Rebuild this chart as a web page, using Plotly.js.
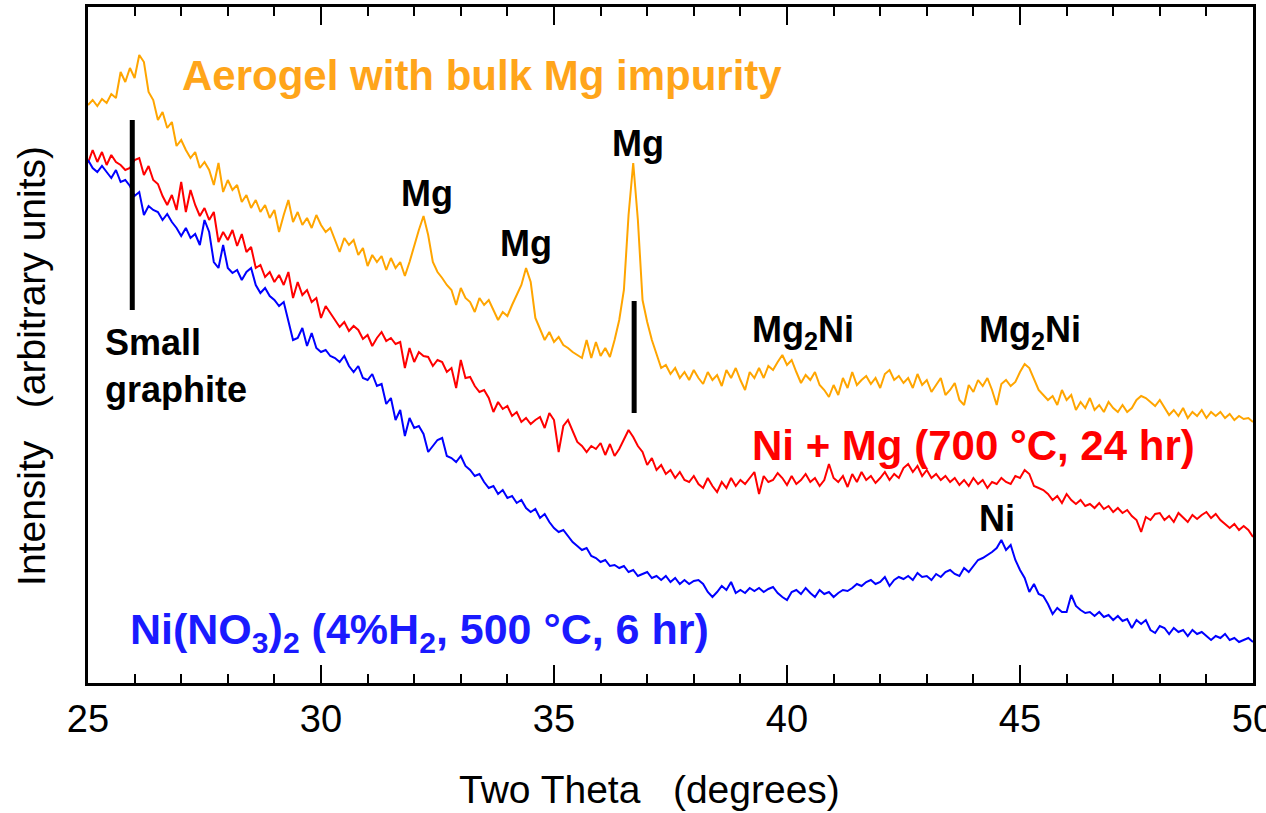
<!DOCTYPE html>
<html>
<head>
<meta charset="utf-8">
<script src="https://cdn.plot.ly/plotly-3.0.1.min.js"></script>
<style>html,body{margin:0;padding:0;background:#fff;}#chart{width:1266px;height:813px;}</style>
</head>
<body>
<div id="chart"></div>
<script>
// Two-theta scan grid (degrees)
const twoTheta = [
25.0,25.1,25.2,25.3,25.4,25.5,25.6,25.7,25.8,25.9,
26.0,26.1,26.2,26.3,26.4,26.5,26.6,26.7,26.8,26.9,
27.0,27.1,27.2,27.3,27.4,27.5,27.6,27.7,27.8,27.9,
28.0,28.1,28.2,28.3,28.4,28.5,28.6,28.7,28.8,28.9,
29.0,29.1,29.2,29.3,29.4,29.5,29.6,29.7,29.8,29.9,
30.0,30.1,30.2,30.3,30.4,30.5,30.6,30.7,30.8,30.9,
31.0,31.1,31.2,31.3,31.4,31.5,31.6,31.7,31.8,31.9,
32.0,32.1,32.2,32.3,32.4,32.5,32.6,32.7,32.8,32.9,
33.0,33.1,33.2,33.3,33.4,33.5,33.6,33.7,33.8,33.9,
34.0,34.1,34.2,34.3,34.4,34.5,34.6,34.7,34.8,34.9,
35.0,35.1,35.2,35.3,35.4,35.5,35.6,35.7,35.8,35.9,
36.0,36.1,36.2,36.3,36.4,36.5,36.6,36.7,36.8,36.9,
37.0,37.1,37.2,37.3,37.4,37.5,37.6,37.7,37.8,37.9,
38.0,38.1,38.2,38.3,38.4,38.5,38.6,38.7,38.8,38.9,
39.0,39.1,39.2,39.3,39.4,39.5,39.6,39.7,39.8,39.9,
40.0,40.1,40.2,40.3,40.4,40.5,40.6,40.7,40.8,40.9,
41.0,41.1,41.2,41.3,41.4,41.5,41.6,41.7,41.8,41.9,
42.0,42.1,42.2,42.3,42.4,42.5,42.6,42.7,42.8,42.9,
43.0,43.1,43.2,43.3,43.4,43.5,43.6,43.7,43.8,43.9,
44.0,44.1,44.2,44.3,44.4,44.5,44.6,44.7,44.8,44.9,
45.0,45.1,45.2,45.3,45.4,45.5,45.6,45.7,45.8,45.9,
46.0,46.1,46.2,46.3,46.4,46.5,46.6,46.7,46.8,46.9,
47.0,47.1,47.2,47.3,47.4,47.5,47.6,47.7,47.8,47.9,
48.0,48.1,48.2,48.3,48.4,48.5,48.6,48.7,48.8,48.9,
49.0,49.1,49.2,49.3,49.4,49.5,49.6,49.7,49.8,49.9,
50.0];

// Intensity (arbitrary units, offset for display)
const aerogelMg = [
578,583,577,584,580,589,585,611,601,615,
605,628,621,591,583,563,571,555,561,537,
543,533,525,531,515,521,513,498,520,491,
503,493,498,481,488,475,483,471,478,465,
473,451,468,483,461,471,458,465,455,468,
458,451,455,443,431,445,438,443,428,435,
417,428,421,427,413,425,415,421,407,421,
438,453,467,448,421,411,405,398,393,378,
395,385,381,371,385,378,383,373,363,371,
367,378,388,398,415,401,365,353,343,351,
341,346,338,335,331,328,325,343,325,341,
327,335,326,343,363,393,468,520,463,383,
361,343,328,315,318,309,315,305,311,303,
313,305,299,311,303,308,297,313,305,315,
303,293,311,305,315,305,317,313,321,328,
318,323,311,300,308,303,311,298,293,286,
298,288,305,295,311,298,303,307,299,305,
295,309,313,303,307,300,305,295,309,298,
303,291,298,305,288,293,300,283,278,298,
291,303,297,305,293,278,299,303,297,301,
311,319,315,303,293,288,283,287,278,293,
283,288,273,281,275,285,273,278,271,281,
275,271,278,271,275,283,287,285,281,277,
283,275,268,273,267,275,265,271,267,273,
265,271,267,271,265,269,263,267,264,265,
261];

const niMg = [
520,533,521,531,518,528,521,518,513,515,
523,525,508,517,503,499,487,478,488,473,
501,471,493,478,467,475,463,471,441,451,
443,453,437,449,431,436,415,418,406,411,
401,408,398,411,385,401,388,393,381,385,
365,377,370,363,356,361,352,357,353,344,
348,337,345,351,342,345,339,341,315,335,
321,331,327,326,317,323,321,311,315,295,
323,305,306,297,291,293,285,271,281,274,
277,267,271,261,265,259,263,266,255,270,
263,231,257,263,251,241,237,231,237,234,
240,228,239,227,234,243,253,246,237,231,
218,225,213,218,209,213,205,211,203,201,
207,199,195,205,197,191,201,195,205,197,
203,199,205,211,189,207,201,203,210,205,
198,207,199,203,209,201,205,197,203,219,
205,201,207,196,209,201,211,203,207,200,
205,211,203,209,205,215,219,211,217,207,
213,205,209,203,207,201,205,198,203,197,
205,199,203,195,201,199,205,201,199,207,
205,213,209,197,195,193,189,183,187,180,
189,183,179,183,177,179,175,180,174,177,
171,175,170,173,167,163,151,166,163,169,
170,163,167,161,170,165,161,168,164,168,
171,165,169,163,159,155,159,153,157,153,
146];

const niNitrate = [
523,515,511,517,511,505,513,501,503,497,
487,491,468,477,473,471,463,469,461,455,
447,455,445,449,438,463,451,421,415,438,
415,410,413,403,411,415,398,390,395,387,
383,377,381,363,343,345,355,337,350,335,
331,333,327,325,321,327,317,311,317,305,
303,309,297,299,279,285,263,273,247,265,
255,257,249,231,237,243,245,227,225,221,
227,217,213,207,209,201,195,197,189,193,
185,187,180,183,175,171,174,165,169,161,
155,151,153,147,141,137,133,135,127,125,
121,123,117,118,115,117,111,113,107,109,
111,105,107,103,107,101,105,99,103,99,
102,103,99,91,86,91,97,93,101,90,
93,90,95,92,95,91,94,96,90,86,
83,91,93,89,95,90,86,93,89,91,
86,90,93,92,95,99,97,101,103,99,
101,106,97,103,106,104,107,103,110,106,
107,103,109,106,111,113,109,107,115,111,
117,123,125,128,131,135,143,133,138,123,
113,105,91,99,89,87,79,69,75,71,
71,88,77,73,70,71,67,71,66,68,
63,67,62,64,55,63,59,63,53,50,
57,55,49,55,51,53,47,53,49,51,
47,43,47,45,49,43,45,41,43,45,
41];

// Reference marker lines (two-theta, intensity span)
const graphiteMarkX = [25.95, 25.95];
const graphiteMarkY = [563, 373];
const mgMarkX = [36.72, 36.72];
const mgMarkY = [382, 270];

const xTickVals = [25, 30, 35, 40, 45, 50];
const seriesNames = ["Aerogel with bulk Mg impurity", "Ni + Mg (700 °C, 24 hr)", "Ni(NO3)2 (4%H2, 500 °C, 6 hr)"];
const seriesColors = ["#FFA500", "#FF0000", "#0000FF"];

const FONT = "Liberation Sans, Arial, sans-serif";

const traces = [
  {x: twoTheta, y: aerogelMg, mode: "lines", name: seriesNames[0], line: {color: seriesColors[0], width: 2}},
  {x: twoTheta, y: niMg, mode: "lines", name: seriesNames[1], line: {color: seriesColors[1], width: 2}},
  {x: twoTheta, y: niNitrate, mode: "lines", name: seriesNames[2], line: {color: seriesColors[2], width: 2}},
  {x: graphiteMarkX, y: graphiteMarkY, mode: "lines", name: "graphite marker", line: {color: "#000", width: 5}, hoverinfo: "skip"},
  {x: mgMarkX, y: mgMarkY, mode: "lines", name: "Mg marker", line: {color: "#000", width: 5}, hoverinfo: "skip"}
];

const bold = (size, color) => ({family: FONT, size: size, color: color, weight: "bold"});

const annotations = [
  {x: 26.97, y: 608, xanchor: "left", yanchor: "middle", text: "<b>Aerogel with bulk Mg impurity</b>", font: bold(42, "#FFA51A")},
  {x: 32.27, y: 490, xanchor: "center", yanchor: "middle", text: "<b>Mg</b>", font: bold(36, "#000")},
  {x: 34.4, y: 440, xanchor: "center", yanchor: "middle", text: "<b>Mg</b>", font: bold(36, "#000")},
  {x: 36.8, y: 540, xanchor: "center", yanchor: "middle", text: "<b>Mg</b>", font: bold(36, "#000")},
  {x: 40.34, y: 351, xanchor: "center", yanchor: "middle", text: "<b>Mg<sub>2</sub>Ni</b>", font: bold(36, "#000")},
  {x: 45.21, y: 351, xanchor: "center", yanchor: "middle", text: "<b>Mg<sub>2</sub>Ni</b>", font: bold(36, "#000")},
  {x: 44.5, y: 165, xanchor: "center", yanchor: "middle", text: "<b>Ni</b>", font: bold(36, "#000")},
  {x: 25.32, y: 317, xanchor: "left", yanchor: "middle", align: "left", text: "<b>Small<br>graphite</b>", font: bold(36, "#000")},
  {x: 39.2, y: 238, xanchor: "left", yanchor: "middle", text: "<b>Ni + Mg (700 °C, 24 hr)</b>", font: bold(42, "#FF0000")},
  {x: 25.86, y: 51, xanchor: "left", yanchor: "middle", text: "<b>Ni(NO<sub>3</sub>)<sub>2</sub> (4%H<sub>2</sub>, 500 °C, 6 hr)</b>", font: bold(43, "#1A1AFF")}
].map(a => Object.assign({xref: "x", yref: "y", showarrow: false}, a));

// axis titles placed as paper annotations
annotations.push({xref: "paper", yref: "paper", x: 0.4824, y: -0.158, xanchor: "center", yanchor: "middle", showarrow: false,
  text: "Two Theta\u00a0\u00a0\u00a0(degrees)", font: {family: FONT, size: 39, color: "#000"}});
annotations.push({xref: "paper", yref: "paper", x: -0.0481, y: 0.469, xanchor: "center", yanchor: "middle", showarrow: false, textangle: -90,
  text: "Intensity\u00a0\u00a0\u00a0(arbitrary units)", font: {family: FONT, size: 39, color: "#000"}});

const layout = {
  width: 1266, height: 813,
  margin: {l: 88, r: 13, t: 7, b: 130},
  paper_bgcolor: "#fff", plot_bgcolor: "#fff",
  showlegend: false,
  font: {family: FONT, size: 38, color: "#000"},
  xaxis: {
    range: [25, 50], tickvals: xTickVals,
    ticks: "inside", ticklen: 18, tickwidth: 2.5, tickcolor: "#000",
    minor: {dtick: 1, ticks: "inside", ticklen: 9, tickwidth: 2, tickcolor: "#000", showgrid: false},
    showline: true, linewidth: 3, linecolor: "#000", mirror: "ticks",
    showgrid: false, zeroline: false, ticklabeloverflow: "allow",
    tickfont: {family: FONT, size: 38, color: "#000"}
  },
  yaxis: {
    range: [0, 676], showticklabels: false, ticks: "",
    showline: true, linewidth: 3, linecolor: "#000", mirror: true,
    showgrid: false, zeroline: false
  },
  annotations: annotations
};

Plotly.newPlot("chart", traces, layout, {displayModeBar: false, staticPlot: true});
</script>
</body>
</html>
